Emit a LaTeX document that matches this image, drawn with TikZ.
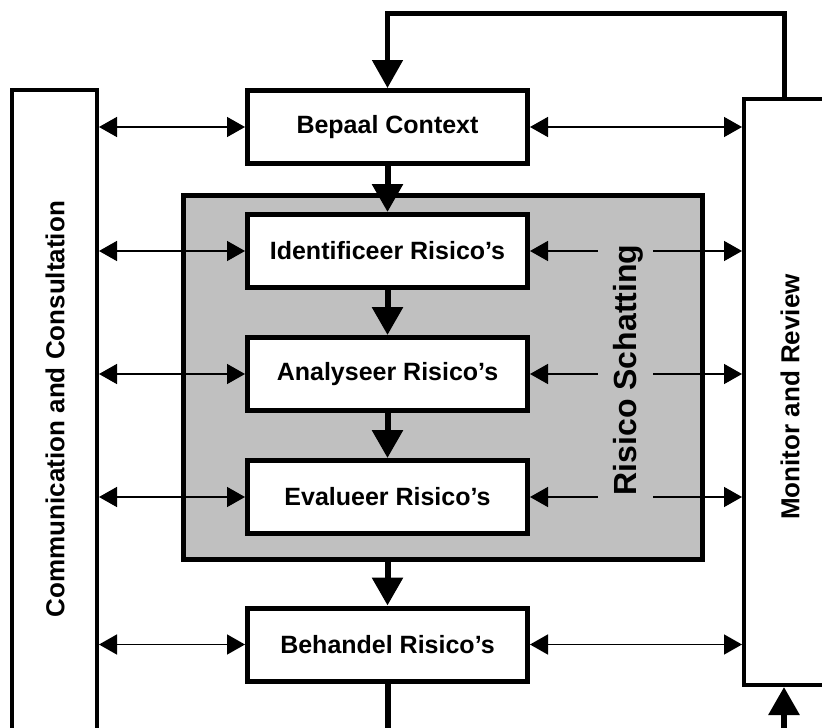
\documentclass[tikz,border=0pt]{standalone}
\usepackage{fontspec}
\setmainfont{Liberation Sans}
\usetikzlibrary{arrows.meta}
\definecolor{schatgrey}{HTML}{C0C0C0}
\tikzset{
    procbox/.style={draw, line width=5pt, fill=white, minimum width=280pt, minimum height=73pt, inner sep=0pt, font=\fontsize{25}{30}\selectfont\bfseries},
    sidebox/.style={draw, line width=4pt, fill=white, inner sep=0pt},
    sidetext/.style={rotate=90, font=\fontsize{26}{30}\selectfont\bfseries},
    flow/.style={line width=6pt, -{Triangle[length=28pt,width=30pt]}},
    link/.style={line width=1.5pt, {Triangle[length=18pt,width=20pt]}-{Triangle[length=18pt,width=20pt]}},
    linkl/.style={line width=1.5pt, {Triangle[length=18pt,width=20pt]}-},
    linkr/.style={line width=1.5pt, -{Triangle[length=18pt,width=20pt]}},
}

\begin{document}
\begin{tikzpicture}[x=1pt,y=-1pt]
\useasboundingbox (0,0) rectangle (822,728);
		% side columns
		\node[sidebox, minimum width=85pt, minimum height=670pt] (comm) at (54.5,425) {};
		\node[sidebox, minimum width=154pt, minimum height=586pt] (mon) at (821,392) {};
		\node[sidetext] (commtext) at (55,409) {Communication and Consultation};
		\node[sidetext] (montext) at (790,397) {Monitor and Review};
		
		% grey block
		\node[draw, line width=5pt, fill=schatgrey, minimum width=519pt, minimum height=364pt] (schat) at (443,377.5) {};
		\node[sidetext, font=\fontsize{32}{36}\selectfont\bfseries] (schattext) at (628,370) {Risico Schatting};
		
		\node[procbox] (bepaal) at (387.5,127) {Bepaal Context};
		\node[procbox] (identif) at (387.5,251) {Identificeer Risico’s};
		\node[procbox] (analys) at (387.5,374) {Analyseer Risico’s};
		\node[procbox] (evalu) at (387.5,497) {Evalueer Risico’s};
		\node[procbox] (behandel) at (387.5,644.5) {Behandel Risico’s};
		
		\draw[flow] (bepaal.south) -- (identif.north);
		\draw[flow] (identif.south) -- (analys.north);
		\draw[flow] (analys.south) -- (evalu.north);
		\draw[flow] (schat.south -| behandel.north) -- (behandel.north);
		
		% feedback loop
		\coordinate (fbtop) at (784,13);
		\coordinate (fbbot) at (784,740);
		\coordinate (outbot) at (387.5,740);
		\draw[line width=5pt, -{Triangle[length=28pt,width=30pt]}] (mon.north -| fbtop) -- (fbtop) -| (bepaal.north);
		\draw[flow] (fbbot) -- (mon.south -| fbbot);
		\draw[line width=6pt] (behandel.south) -- (behandel.south |- outbot);
		
		% two way links
		\foreach \b in {bepaal,identif,analys,evalu,behandel}
			\draw[link] (comm.east |- \b.west) -- (\b.west);
		\draw[link] (bepaal.east) -- (bepaal.east -| mon.west);
		\draw[link] (behandel.east) -- (behandel.east -| mon.west);
		\coordinate (gapl) at (598,0);
		\coordinate (gapr) at (653,0);
		\foreach \b in {identif,analys,evalu} {
			\draw[linkl] (\b.east) -- (\b.east -| gapl);
			\draw[linkr] (\b.east -| gapr) -- (\b.east -| mon.west);
		}
\end{tikzpicture}
\end{document}
